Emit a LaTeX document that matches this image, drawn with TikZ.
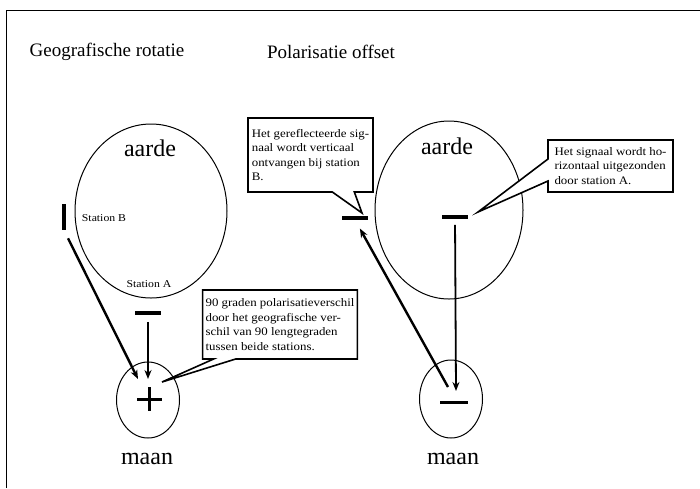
\documentclass[tikz,border=0pt]{standalone}
\usepackage{fontspec}
\setmainfont{Liberation Serif}
\newfontfamily\widefont[FakeStretch=1.12]{Liberation Serif}
\usetikzlibrary{shapes.geometric,shapes.callouts,arrows.meta}

\tikzset{
  hbar/.style={fill,inner sep=0pt,minimum width=26pt,minimum height=3.2pt},
  vbar/.style={fill,inner sep=0pt,minimum width=3.6pt,minimum height=26pt},
  globe/.style={ellipse,draw,line width=1pt,inner sep=0pt},
  arr/.style={-{Stealth[length=9pt,width=7pt]},line width=2.4pt},
  note/.style={rectangle callout,draw,fill=white,line width=1.6pt,inner sep=3pt,
    align=left,anchor=center,font=\widefont\fontsize{11.5}{14.5}\selectfont,callout pointer width=22pt},
  small/.style={font=\widefont\fontsize{10.5}{12}\selectfont},
  title/.style={font=\fontsize{19}{22}\selectfont},
  big/.style={font=\fontsize{24}{28}\selectfont}
}

\begin{document}
\begin{tikzpicture}[x=1pt,y=-1pt]
  \useasboundingbox (0,0) rectangle (700,488);
  \draw[line width=1pt] (6,488) -- (6,10) -- (700,10);

  % titles
  \node[title] (t1) at (107,52) {Geografische rotatie};
  \node[title] (t2) at (331,52) {Polarisatie offset};

  % left: geographic rotation
  \node[globe,minimum width=152pt,minimum height=174pt] (eL) at (151,211) {};
  \node[big] (aL) at (150,148) {aarde};
  \node[small] (sB) at (104,218) {Station B};
  \node[small] (sA) at (149,284) {Station A};
  \node[vbar] (barB) at (64,217) {};
  \node[hbar] (barA) at (148,313) {};
  \node[globe,minimum width=63pt,minimum height=76pt] (mL) at (148,400) {};
  \draw[line width=3pt] (137,399) -- (162,399) (149.5,387) -- (149.5,411);
  \node[big] (nL) at (147,459) {maan};
  \coordinate (mLin1) at (138,379);
  \coordinate (mLin2) at (148,379);
  \draw[arr,shorten <=9pt] (barB.south) -- (mLin1);
  \draw[arr,shorten <=7pt] (barA.south) -- (mLin2);

  % right: polarisation offset
  \node[globe,minimum width=148pt,minimum height=178pt] (eR) at (449,210) {};
  \node[big] (aR) at (447,146) {aarde};
  \node[hbar] (barR1) at (355,218) {};
  \node[hbar] (barR2) at (455,217) {};
  \node[globe,minimum width=63pt,minimum height=78pt] (mR) at (451,399) {};
  \draw[line width=3pt] (440,402) -- (468,402);
  \node[big] (nR) at (453,459) {maan};
  \coordinate (mRin) at (456,391);
  \coordinate (mRout) at (448,387);
  \draw[arr,line width=1.8pt,shorten <=6pt] (barR2.south) -- (mRin);
  \draw[arr,shorten >=10pt] (mRout) -- (barR1.south);

  % notes
  \coordinate (tip1) at (362,213);
  \coordinate (tip2) at (478,212);
  \coordinate (tip3) at (162,382);
  \node[note,minimum width=125pt,minimum height=74pt,callout absolute pointer={(tip1)}] (n1) at (310.5,155)
    {Het gereflecteerde sig-\\naal wordt verticaal\\ontvangen bij station\\B.};
  \node[note,minimum width=125pt,minimum height=52pt,callout absolute pointer={(tip2)}] (n2) at (610.5,166)
    {Het signaal wordt ho-\\rizontaal uitgezonden\\door station A.};
  \node[note,minimum width=152pt,minimum height=69pt,callout absolute pointer={(tip3)}] (n3) at (280,324.5)
    {90 graden polarisatieverschil\\door het geografische ver-\\schil van 90 lengtegraden\\tussen beide stations.};
\end{tikzpicture}
\end{document}
